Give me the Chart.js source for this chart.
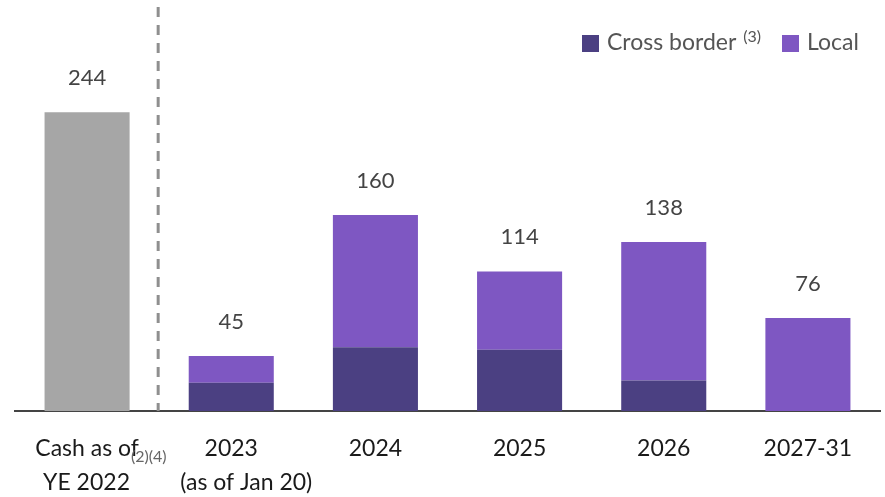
<!DOCTYPE html>
<html>
<head>
<meta charset="utf-8">
<script src="https://cdn.jsdelivr.net/npm/chart.js@4"></script>
<style>
  html, body { margin: 0; padding: 0; background: #fff; }
  #wrap { width: 885px; height: 497px; }
</style>
</head>
<body>
<div id="wrap"><canvas id="chart"></canvas></div>
<script>
// Data
const categories = ['Cash', '2023', '2024', '2025', '2026', '2027-31'];
const cashValues = [244, null, null, null, null, null];
const crossBorder = [null, 23, 52, 50, 25, null];
const localValues = [null, 22, 108, 64, 113, 76];
const totals = [244, 45, 160, 114, 138, 76];
const firstLines = ['Cash as of', '2023', '2024', '2025', '2026', '2027-31'];

const FONT = 'Lato, "Open Sans", sans-serif';

// Labels over the stacks, x labels with superscripts, dashed separator, legend
const extras = {
    id: 'extras',
    afterDraw(chart) {
        const ctx = chart.ctx;
        const x = chart.scales.x, y = chart.scales.y;
        const area = chart.chartArea;
        const ds = chart.data.datasets;
        ctx.save();

        // dashed separator between cash and years
        const sepX = (x.getPixelForValue(0) + x.getPixelForValue(1)) / 2 - 1;
        ctx.strokeStyle = '#8f8f8f';
        ctx.lineWidth = 3;
        ctx.setLineDash([10, 8]);
        ctx.beginPath();
        ctx.moveTo(sepX, 7);
        ctx.lineTo(sepX, area.bottom);
        ctx.stroke();
        ctx.setLineDash([]);

        // totals
        ctx.fillStyle = '#444';
        ctx.font = '22px ' + FONT;
        ctx.textAlign = 'center';
        ctx.textBaseline = 'middle';
        totals.forEach((v, i) => {
            ctx.fillText(String(v), x.getPixelForValue(i), y.getPixelForValue(v) - 34);
        });

        // x labels, first line
        ctx.font = '23px ' + FONT;
        ctx.fillStyle = '#1a1a1a';
        firstLines.forEach((t, i) => {
            ctx.fillText(t, x.getPixelForValue(i), 449);
        });

        // second line: "YE 2022(2)(4) (as of Jan 20)"
        ctx.textAlign = 'left';
        let cx = x.getPixelForValue(0) - 44;
        ctx.fillText('YE 2022', cx, 483);
        cx += ctx.measureText('YE 2022').width;
        ctx.font = '16px ' + FONT;
        ctx.fillStyle = '#666';
        ctx.fillText('(2)(4)', cx + 1, 457);
        ctx.font = '23px ' + FONT;
        ctx.fillStyle = '#1a1a1a';
        ctx.fillText('(as of Jan 20)', x.getPixelForValue(1) - 51, 483);

        // legend
        ctx.fillStyle = ds[1].backgroundColor;
        ctx.fillRect(582, 35, 17, 17);
        ctx.fillStyle = ds[2].backgroundColor;
        ctx.fillRect(782, 35, 17, 17);
        ctx.fillStyle = '#555';
        ctx.font = '23px ' + FONT;
        ctx.fillText(ds[1].label, 607, 43);
        const w = ctx.measureText(ds[1].label).width;
        ctx.font = '16px ' + FONT;
        ctx.fillText('(3)', 607 + w + 7, 37);
        ctx.font = '23px ' + FONT;
        ctx.fillText(ds[2].label, 807, 43);

        ctx.restore();
    }
};

new Chart(document.getElementById('chart'), {
    type: 'bar',
    data: {
        labels: categories,
        datasets: [
            { label: 'Cash', data: cashValues, backgroundColor: '#a6a6a6' },
            { label: 'Cross border', data: crossBorder, backgroundColor: '#4b4082' },
            { label: 'Local', data: localValues, backgroundColor: '#7e57c2' }
        ]
    },
    options: {
        responsive: true,
        maintainAspectRatio: false,
        animation: false,
        layout: { padding: { left: 15, right: 5, top: 62, bottom: 78 } },
        datasets: { bar: { categoryPercentage: 1, barPercentage: 0.59, borderWidth: 0 } },
        plugins: {
            legend: { display: false },
            tooltip: { enabled: false }
        },
        scales: {
            x: {
                stacked: true,
                grid: { display: false },
                ticks: { display: false },
                border: { display: true, color: '#444', width: 2 }
            },
            y: {
                stacked: true,
                display: false,
                min: 0,
                max: 285
            }
        }
    },
    plugins: [extras]
});
</script>
</body>
</html>
